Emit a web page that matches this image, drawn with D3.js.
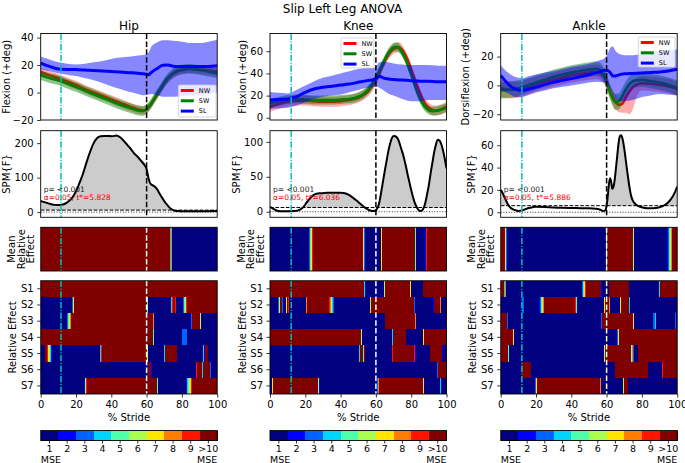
<!DOCTYPE html>
<html><head><meta charset="utf-8">
<script src="https://cdn.jsdelivr.net/npm/d3@7"></script>
<style>body{margin:0;background:#fff}svg{display:block}</style>
</head><body><svg id="c" width="685" height="463"></svg>
<script>
// ---------------- DATA ----------------
const joints = ["Hip", "Knee", "Ankle"];
const topYLabels = ["Flexion (+deg)", "Flexion (+deg)", "Dorsiflexion (+deg)"];
const seriesNames = ["NW", "SW", "SL"];
const subjects = ["S1", "S2", "S3", "S4", "S5", "S6", "S7"];
const cbarLabels = ["1", "2", "3", "4", "5", "6", "7", "8", "9", ">10"];
const toeOff = 60;
const markers = [11.5, 12, 12];
const thresholds = [5.828, 6.036, 5.886];
const pTexts = ["p= <0.001", "p= <0.001", "p= <0.001"];
const topTicks = [[-20, 0, 20, 40], [0, 20, 40, 60], [-20, 0, 20]];
const spmTicks = [[0, 100, 200], [0, 50, 100], [0, 20, 40, 60]];
const strideTicks = [0, 20, 40, 60, 80, 100];

// [stride %, mean, lower, upper]
const hipNW = [[0,15,12,18],[5,12.5,9.5,15.5],[10,10.5,7.5,13.5],[15,8,5,11],[20,5.5,2.5,8.5],[25,2.5,-0.5,5.5],[30,0,-3,3],[35,-2.5,-5.5,0.5],[40,-5,-8,-2],[45,-7.5,-10.5,-4.5],[50,-10,-13,-7],[55,-12.3,-15.3,-9.3],[58,-13,-16,-10],[60,-12.2,-15.2,-9.2],[62,-9.5,-12.5,-6.5],[65,-3.5,-6.5,-0.5],[68,2.5,-0.5,5.5],[71,8.5,5.5,11.5],[74,12.5,9.5,15.5],[77,15,12,18],[80,16.3,13.3,19.3],[84,17.2,14.2,20.2],[88,17,14,20],[92,16.5,13.5,19.5],[96,15.8,12.8,18.8],[100,15,12,18]];
const hipSW = [[0,12.8,9.3,16.3],[5,10.5,7,14],[10,9,5.5,12.5],[15,6.5,3,10],[20,4,0.5,7.5],[25,1.3,-2.2,4.8],[30,-1.2,-4.7,2.3],[35,-3.8,-7.3,-0.3],[40,-6.3,-9.8,-2.8],[45,-9,-12.5,-5.5],[50,-11,-14.5,-7.5],[55,-13,-16.5,-9.5],[58,-13.4,-16.9,-9.9],[60,-12,-15.5,-8.5],[62,-9,-12.5,-5.5],[65,-3,-6.5,0.5],[68,3,-0.5,6.5],[71,9,5.5,12.5],[74,13,9.5,16.5],[77,15.7,12.2,19.2],[80,16.8,13.3,20.3],[84,17.3,13.8,20.8],[88,16.8,13.3,20.3],[92,16,12.5,19.5],[96,15,11.5,18.5],[100,14,10.5,17.5]];
const hipSL = [[0,21.5,17,26],[5,19,15.5,24],[10,17.2,14,22],[15,16.8,13,21],[20,16.7,12,20.5],[25,16.5,10.5,21],[30,16,9,22],[35,15.7,7,23],[40,15.3,4.5,24.5],[45,15,2.5,25.5],[50,14.5,0.5,26],[55,14,-1,27],[59,13.5,-2,27.5],[61,13,-1.5,29],[63,15,-1,34],[66,17.5,-2,36.5],[69,19.8,-3,38],[72,20,-3,38],[76,19,-3,37.5],[80,19,-2.5,37],[85,19,-2,36],[90,19,-1.5,36],[95,19,-1,37],[100,19.5,0,38.5]];

const kneeNW = [[0,10,5.5,14.5],[5,12.5,8,17],[10,14.5,10,19],[15,15.5,11,20],[20,15.5,11,20],[25,15,10.5,19.5],[30,14.5,10,19],[35,14.5,10,19],[40,15,10.5,19.5],[45,16,11.5,20.5],[50,18,13.5,22.5],[53,20.5,16,25],[56,24.5,20,29],[59,31,26.5,35.5],[62,40.5,36,45],[65,51,46.5,55.5],[68,59,54.5,63.5],[71,63,58.5,67.5],[73,63.5,59,68],[75,61,56.5,65.5],[78,52,47.5,56.5],[81,39,34.5,43.5],[84,26,21.5,30.5],[87,15,10.5,19.5],[90,9,4.5,13.5],[93,6.5,2,11],[96,7,2.5,11.5],[100,10,5.5,14.5]];
const kneeSW = [[0,13,9,17],[5,15,11,19],[10,16.5,12.5,20.5],[15,17,13,21],[20,16.5,12.5,20.5],[25,16,12,20],[30,16,12,20],[35,16,12,20],[40,16.5,12.5,20.5],[45,17,13,21],[50,19,15,23],[53,21.5,17.5,25.5],[56,26,22,30],[59,33,29,37],[62,42.5,38.5,46.5],[65,52.5,48.5,56.5],[68,60.5,56.5,64.5],[70,63.5,59.5,67.5],[72,64,60,68],[74,61,57,65],[77,52,48,56],[80,39,35,43],[83,25,21,29],[86,14,10,18],[89,8,4,12],[92,6,2,10],[95,6.5,2.5,10.5],[100,9,5,13]];
const kneeSL = [[0,16,8,23],[5,16.5,8.5,22.5],[10,17,9,22],[15,19,11,25],[20,23,14,29],[25,26,17,33],[30,27.5,19,36],[35,28.5,20,38],[40,29.5,21,40],[45,30.5,23,42],[50,32,25,44],[55,33.5,27,45],[59,34.5,28,45],[61,36.5,28,48],[62,37.5,27,50],[64,36,25,50.5],[67,35,22,50],[70,34.5,20,49],[75,34,17,48],[80,33.5,15,47.5],[85,33,15,47.5],[90,33,16,47.5],[95,32.5,16,47],[100,32.5,16,47]];

const ankleNW = [[0,-2,-8,4],[5,-3,-9,3],[10,-3,-8.5,2.5],[15,-1,-6.5,4.5],[20,1,-4,6],[25,2.5,-2.5,7.5],[30,4,-1,9],[35,5.5,0.5,10.5],[40,7,2,12],[45,8,3,13],[50,9,4,14],[54,9.5,4.5,14.5],[57,8,3,13],[59,5,0,10],[61,-1,-6,4],[63,-7,-12,-2],[65,-11.5,-16.5,-6.5],[67,-13.5,-18.5,-8.5],[69,-12.5,-19,-7],[71,-8,-19,-3],[73,-4,-20,0],[75,-1,-16,3],[77,0.5,-8,5],[80,1.5,-3.5,6.5],[86,1,-4,6],[90,0.5,-4.5,5.5],[95,-0.5,-5.5,4.5],[100,-2.3,-7,2.5]];
const ankleSW = [[0,-3.5,-9,2],[5,-3,-8.5,2.5],[10,-2,-7.5,3.5],[15,0,-5,5],[20,2,-3,7],[25,4,-1,9],[30,6,1,11],[35,7.5,2.5,12.5],[40,9,4,14],[45,10,5,15],[50,11,6,16],[54,11.5,6.5,16.5],[57,10,5,15],[59,6,1,11],[61,-1,-6,4],[63,-8,-13,-3],[65,-11.5,-17,-6],[67,-11,-16.5,-5.5],[69,-7,-12.5,-1.5],[71,-2.5,-8,3],[73,1,-4.5,6.5],[76,3.5,-1.5,8.5],[80,3.8,-1,8.5],[85,3,-2,8],[90,2,-3,7],[95,0.5,-4.5,5.5],[100,-1.8,-7,3.5]];
const ankleSL = [[0,7,-3,14],[3,2.5,-5,10],[5,0,-6,8],[8,-2.3,-8,6],[12,-3.5,-8,5],[15,-2.8,-7,6],[20,-1.2,-5,7.5],[25,0.5,-3.5,9],[30,2.3,-2,10],[35,3.5,-1,11.5],[40,4.7,0,13],[45,6,1,14],[50,7.4,2,15],[55,9,2.5,17],[59,10.5,2,19],[61,10,0,23],[62,9,-2,26],[63.5,6.5,-6,27],[65,6.5,-10,24],[67,7.3,-11,22],[70,8,-11,21],[75,8.3,-10,21],[80,8.6,-8,22],[85,9,-7,23],[90,9.3,-6,24],[95,10,-6.5,24],[100,11.2,-7,25]];

// SPM{F} curves [stride %, F]
const hipSPM = [[0,32],[2,29],[4,26],[6,23],[8,21],[10,20.5],[12,21.5],[14,25],[16,32],[18,43],[20,60],[22,85],[24,112],[26,145],[28,175],[30,200],[32,215],[34,220],[36,221],[38,221],[40,220],[42,221],[43,222],[45,217],[47,207],[49,195],[51,183],[53,170],[55,160],[57,148],[59,135],[60,125],[61,100],[62,84],[63,79],[64,76],[65,72],[66,66],[67,57],[68,48],[69,40],[70,32],[71,25],[72,19],[73,13],[74,9],[75,6],[76,4],[78,3],[80,2.5],[90,2.5],[100,3]];
const kneeSPM = [[0,7],[2,4],[4,1.5],[6,0.8],[10,0.8],[14,1],[17,3],[19,7],[21,14],[23,20],[25,24.5],[28,26.5],[32,27],[36,27.2],[40,27.3],[43,26],[46,22],[48,18],[50,14],[52,9.5],[54,5.5],[56,2.5],[58,1],[59.5,1.5],[61,6],[62,14],[63,28],[64,43],[65,58],[66,72],[67,86],[68,97],[69,105],[70,108.5],[71,108],[72,106],[73,101],[74,93],[75,85],[76,76],[77,65],[78,53],[79,42],[80,31],[81,21],[82,13],[83,7],[84,3],[85,1],[86,1.5],[87,5],[88,13],[89,25],[90,38],[91,55],[92,70],[93,85],[94,96],[95,103],[96,102],[97,97],[98,88],[99,76],[100,62]];
const ankleSPM = [[0,20],[1,17.5],[2,14],[3,10.5],[4,7.5],[5,5],[6,3.5],[8,2],[10,1.2],[12,1.5],[14,2.8],[16,3.8],[18,4.5],[20,5],[25,4.8],[30,4.3],[35,4],[40,3.8],[45,3.7],[50,3.6],[54,3.2],[56,2.5],[58,1.2],[59,1.5],[60,6],[60.7,15],[61.3,25],[62,30.5],[62.6,27],[63.2,21],[63.8,22.5],[64.5,28],[65.2,38],[66,50],[66.8,62],[67.5,68],[68.2,69],[69,66],[70,57],[71,45],[72,33],[73,22],[74,14],[75,10],[77,6.5],[80,4.5],[83,3.6],[86,3.5],[90,4.5],[93,6.5],[95,9],[97,13],[99,19],[100,23]];

// Relative effect (MSE) knots [stride %, MSE]
const hipMean = [[0,10],[73.2,10],[74.5,1],[100,1]];
const hipRows = [
  [[0,10],[100,10]],
  [[0,1],[17.8,1],[19,10],[60.3,10],[60.7,1],[73.8,1],[74.8,10],[76.3,10],[76.8,1],[80.5,1],[83,10],[100,10]],
  [[0,1],[14.5,1],[17.5,10],[63.8,10],[64.3,1],[85.3,1],[85.8,10],[90.3,10],[90.8,1],[100,1]],
  [[0,10],[63.6,10],[64.2,1],[79.8,1],[80.1,3],[82.6,3],[83,1],[100,1]],
  [[0,1],[2.3,1],[2.6,10],[3.5,10],[6.5,1],[33.5,1],[34.5,10],[60.4,10],[60.8,1],[70,1],[70.4,10],[77,10],[77.4,1],[92,1],[92.4,6],[92.8,1],[93.2,10],[94.5,10],[95,1],[100,1]],
  [[0,1],[60.5,1],[60.8,10],[62.5,10],[62.8,1],[88,1],[88.3,10],[91.4,10],[91.6,2],[91.9,10],[96,10],[96.3,1],[100,1]],
  [[0,1],[24.7,1],[26,10],[65.7,10],[66.5,1],[82,1],[86,10],[100,10]]
];
const kneeMean = [[0,1],[21.9,1],[24.3,10],[52.5,10],[53.8,1],[62.6,1],[63.5,10],[81.9,10],[82.8,1],[88,1],[88.8,10],[100,10]];
const kneeRows = [
  [[0,10],[53,10],[53.8,1],[64.5,1],[65.2,10],[79.4,10],[80,1],[86.4,1],[87,10],[100,10]],
  [[0,1],[4.5,1],[6,10],[6.5,10],[7.2,1],[8.8,1],[9.6,10],[10.4,10],[11,1],[20.3,1],[20.8,10],[33.5,10],[36.5,1],[56.7,1],[57.1,10],[81.5,10],[82,1],[92.6,1],[93,10],[96.5,10],[97,1],[100,1]],
  [[0,1],[65,1],[65.3,10],[82.3,10],[82.8,1],[100,1]],
  [[0,10],[51.5,10],[52.3,1],[69.2,1],[69.8,10],[76.8,10],[77.3,1],[86.5,1],[87.2,10],[100,10]],
  [[0,1],[50.5,1],[51.2,10],[52.5,10],[53,5],[53.5,10],[54,1],[69,1],[69.5,10],[81.8,10],[82.5,1],[90.5,1],[90.9,10],[97.3,10],[97.8,1],[100,1]],
  [[0,1],[94.8,1],[95.4,10],[100,10]],
  [[0,1],[1,1],[1.6,10],[27,10],[28.2,1],[60.6,1],[61.8,10],[86.8,10],[87.3,1],[96.2,1],[96.6,4],[97,1],[100,1]]
];
const ankleMean = [[0,10],[2.3,10],[3.5,1],[59.4,1],[60.5,10],[74.8,10],[75.8,1],[94.3,1],[97.5,10],[100,10]];
const ankleRows = [
  [[0,10],[1.8,10],[3.2,1],[45.8,1],[48.3,10],[56.6,10],[57.2,1],[61.2,1],[61.6,10],[72.4,10],[73,1],[89.8,1],[90.4,10],[100,10]],
  [[0,1],[12,1],[12.3,3],[13.2,3],[13.5,1],[21.7,1],[25,10],[42.3,10],[43.5,1],[58.5,1],[59,10],[61.5,10],[62,1],[67.6,1],[68,10],[72.6,10],[73.2,1],[100,1]],
  [[0,10],[3.3,10],[4,1],[57,1],[57.6,10],[75,10],[75.8,1],[86,1],[86.3,4],[86.6,3],[87.5,3],[87.8,4],[88.1,1],[98.6,1],[99,3],[99.4,1],[100,1]],
  [[0,10],[7,10],[7.8,1],[65.8,1],[67.4,10],[100,10]],
  [[0,5],[0.5,10],[4,10],[4.8,1],[58.3,1],[59.2,10],[73.5,10],[74,5],[74.5,10],[75,4],[75.8,1],[77.5,1],[78,10],[100,10]],
  [[0,1],[11.8,1],[12,10],[17,10],[17.2,1],[64.5,1],[64.8,10],[83.2,10],[83.4,1],[91.5,1],[91.7,10],[100,10]],
  [[0,1],[19.4,1],[20.8,10],[56.4,10],[57,1],[69.3,1],[69.8,10],[71.8,10],[72.3,1],[100,1]]
];

const topSeries = [[hipNW, hipSW, hipSL], [kneeNW, kneeSW, kneeSL], [ankleNW, ankleSW, ankleSL]];
const spmCurves = [hipSPM, kneeSPM, ankleSPM];
const meanRows = [hipMean, kneeMean, ankleMean];
const subjRows = [hipRows, kneeRows, ankleRows];

// ---------------- LAYOUT / STYLE ----------------
const FONT = "'DejaVu Sans', sans-serif";
const colX = [40.7, 270, 500.7], colW = 176.5;
const R = {top: [33.5, 120], spm: [130.7, 217.3], mean: [227.3, 271], rel: [280.7, 394], cbar: [430.5, 440.5]};
const topDomains = [[-20, 43], [-2, 76], [-24, 36]];
const spmDomains = [[-15, 236], [-8, 116], [-4.5, 73]];
const cmap = ["#000080","#0000ff","#0063ff","#00d4ff","#4effaa","#a9ff4d","#ffe500","#ff7d00","#ff1400","#800000"];
const sColors = ["#ff0000", "#008000", "#0000ff"];
const bandOpacity = [0.33, 0.45, 0.47];
const lineW = [2.6, 2.6, 3];
const cyan = "#00bfbf";
const legendBoxes = [{x: 178.3, y: 85, w: 37.7, h: 32}, {x: 341, y: 38, w: 33, h: 30}, {x: 638.3, y: 37, w: 36.7, h: 30}];
const topLabelX = [6, 242, 465];
const spmLabelX = [6.5, 236.5, 471.5];
const relLabelX = [12, 242, 472];

const svg = d3.select("#c");
const defs = svg.append("defs");

function clip(id, x0, y0, x1, y1) {
  defs.append("clipPath").attr("id", id).append("rect").attr("x", x0).attr("y", y0).attr("width", x1 - x0).attr("height", y1 - y0);
  return "url(#" + id + ")";
}
function frame(x0, y0, x1, y1) {
  svg.append("rect").attr("x", x0).attr("y", y0).attr("width", x1 - x0).attr("height", y1 - y0)
    .attr("fill", "none").attr("stroke", "#000").attr("stroke-width", 0.9);
}
function styleAxis(g, size) {
  g.attr("font-family", FONT).attr("font-size", size || 10);
  g.select(".domain").remove();
  g.selectAll(".tick line").attr("stroke", "#000").attr("stroke-width", 0.8);
  g.selectAll(".tick text").attr("fill", "#000");
}
function vlines(g, x, y0, y1, m, toeColor) {
  g.append("line").attr("x1", x(m)).attr("x2", x(m)).attr("y1", y0).attr("y2", y1)
    .attr("stroke", cyan).attr("stroke-width", 1.5).attr("stroke-dasharray", "6.4,1.6,1,1.6");
  g.append("line").attr("x1", x(toeOff)).attr("x2", x(toeOff)).attr("y1", y0).attr("y2", y1)
    .attr("stroke", toeColor).attr("stroke-width", 1.5).attr("stroke-dasharray", "5.5,2.4");
}
function vlabel(text, cx, cy, size, color) {
  svg.append("text").attr("transform", `translate(${cx},${cy}) rotate(-90)`).attr("text-anchor", "middle")
    .attr("dy", "0.36em").attr("font-family", FONT).attr("font-size", size).attr("fill", color || "#000").text(text);
}
function interp(knots, p) {
  if (p <= knots[0][0]) return knots[0][1];
  for (let i = 1; i < knots.length; i++) {
    const a = knots[i - 1], b = knots[i];
    if (p <= b[0]) return a[1] + (b[1] - a[1]) * (p - a[0]) / (b[0] - a[0] || 1);
  }
  return knots[knots.length - 1][1];
}
function levelIndex(v) { return Math.max(0, Math.min(9, Math.round(v) - 1)); }
function heatRuns(knots) {
  const runs = []; let cur = null; const step = 0.05;
  for (let i = 0; i < 2000; i++) {
    const p0 = i * step, pm = p0 + step / 2;
    const c = levelIndex(interp(knots, pm));
    if (cur && cur.c === c) cur.x1 = p0 + step;
    else { cur = {x0: p0, x1: p0 + step, c}; runs.push(cur); }
  }
  return runs;
}
function drawHeat(g, x, knots, y0, h) {
  heatRuns(knots).forEach(r => {
    g.append("rect").attr("x", x(r.x0)).attr("y", y0).attr("width", Math.max(0.01, x(r.x1) - x(r.x0)) + 0.3)
      .attr("height", h).attr("fill", cmap[r.c]).attr("shape-rendering", "crispEdges");
  });
}

// Title
svg.append("text").attr("x", 342.5).attr("y", 12.5).attr("text-anchor", "middle").attr("font-family", FONT)
  .attr("font-size", 12).text("Slip Left Leg ANOVA");

joints.forEach((jn, j) => {
  const x0 = colX[j], x1 = colX[j] + colW;
  const x = d3.scaleLinear().domain([0, 100]).range([x0, x1]);

  // ---- panel title
  svg.append("text").attr("x", (x0 + x1) / 2).attr("y", 29.5).attr("text-anchor", "middle")
    .attr("font-family", FONT).attr("font-size", 12).text(jn);

  // ---- top kinematics panel
  const yT = d3.scaleLinear().domain(topDomains[j]).range([R.top[1], R.top[0]]);
  const gT = svg.append("g").attr("clip-path", clip("ct" + j, x0, R.top[0], x1, R.top[1]));
  topSeries[j].forEach((s, k) => {
    gT.append("path").datum(s)
      .attr("d", d3.area().x(d => x(d[0])).y0(d => yT(d[2])).y1(d => yT(d[3])).curve(d3.curveMonotoneX))
      .attr("fill", sColors[k]).attr("fill-opacity", bandOpacity[k]).attr("stroke", "none");
    gT.append("path").datum(s)
      .attr("d", d3.line().x(d => x(d[0])).y(d => yT(d[1])).curve(d3.curveMonotoneX))
      .attr("fill", "none").attr("stroke", sColors[k]).attr("stroke-width", lineW[k]);
  });
  vlines(gT, x, R.top[0], R.top[1], markers[j], "#000");
  frame(x0, R.top[0], x1, R.top[1]);
  svg.append("g").attr("transform", `translate(${x0},0)`)
    .call(d3.axisLeft(yT).tickValues(topTicks[j]).tickSize(3.5).tickPadding(3.5)).call(styleAxis);
  vlabel(topYLabels[j], topLabelX[j], (R.top[0] + R.top[1]) / 2, 10);

  // legend
  const lb = legendBoxes[j];
  const lg = svg.append("g");
  lg.append("rect").attr("x", lb.x).attr("y", lb.y).attr("width", lb.w).attr("height", lb.h).attr("rx", 1.5)
    .attr("fill", "#fff").attr("fill-opacity", 0.8).attr("stroke", "#cccccc").attr("stroke-width", 0.8);
  seriesNames.forEach((nm, k) => {
    const ly = lb.y + 5.5 + k * 10.3;
    lg.append("line").attr("x1", lb.x + 2.5).attr("x2", lb.x + 15.5).attr("y1", ly).attr("y2", ly)
      .attr("stroke", sColors[k]).attr("stroke-width", 3);
    lg.append("text").attr("x", lb.x + 20.5).attr("y", ly).attr("dy", "0.35em").attr("font-family", FONT)
      .attr("font-size", 6.5).text(nm);
  });

  // ---- SPM panel
  const yS = d3.scaleLinear().domain(spmDomains[j]).range([R.spm[1], R.spm[0]]);
  const th = thresholds[j];
  const gS = svg.append("g").attr("clip-path", clip("cs" + j, x0, R.spm[0], x1, R.spm[1]));
  gS.append("path").datum(spmCurves[j])
    .attr("d", d3.area().x(d => x(d[0])).y0(yS(th)).y1(d => yS(Math.max(d[1], th))).curve(d3.curveMonotoneX))
    .attr("fill", "#cccccc");
  gS.append("line").attr("x1", x0).attr("x2", x1).attr("y1", yS(th)).attr("y2", yS(th))
    .attr("stroke", "#000").attr("stroke-width", 1).attr("stroke-dasharray", "3.7,1.6");
  gS.append("line").attr("x1", x0).attr("x2", x1).attr("y1", yS(0)).attr("y2", yS(0))
    .attr("stroke", "#000").attr("stroke-width", 0.8).attr("stroke-dasharray", "1,1.65");
  gS.append("path").datum(spmCurves[j])
    .attr("d", d3.line().x(d => x(d[0])).y(d => yS(d[1])).curve(d3.curveMonotoneX))
    .attr("fill", "none").attr("stroke", "#000").attr("stroke-width", 2);
  vlines(gS, x, R.spm[0], R.spm[1], markers[j], "#000");
  svg.append("text").attr("x", x0 + 3).attr("y", 191.7).attr("font-family", FONT).attr("font-size", 7.5)
    .attr("fill", "#222").text(pTexts[j]);
  svg.append("text").attr("x", x0 + 3).attr("y", 199.7).attr("font-family", FONT).attr("font-size", 7.5)
    .attr("fill", "#ff0000").text("\u03b1=0.05, t*=" + th.toFixed(3));
  frame(x0, R.spm[0], x1, R.spm[1]);
  svg.append("g").attr("transform", `translate(${x0},0)`)
    .call(d3.axisLeft(yS).tickValues(spmTicks[j]).tickSize(3.5).tickPadding(3.5)).call(styleAxis);
  vlabel("SPM{F}", spmLabelX[j], (R.spm[0] + R.spm[1]) / 2, 10);

  // ---- mean relative effect
  const gM = svg.append("g").attr("clip-path", clip("cm" + j, x0, R.mean[0], x1, R.mean[1]));
  drawHeat(gM, x, meanRows[j], R.mean[0], R.mean[1] - R.mean[0]);
  vlines(gM, x, R.mean[0], R.mean[1], markers[j], "#fff");
  frame(x0, R.mean[0], x1, R.mean[1]);
  const mc = (R.mean[0] + R.mean[1]) / 2;
  vlabel("Mean", x0 - 29, mc, 10);
  vlabel("Relative", x0 - 19.5, mc, 10);
  vlabel("Effect", x0 - 10, mc, 10);

  // ---- subject relative effect
  const yB = d3.scaleBand().domain(subjects).range([R.rel[0], R.rel[1]]);
  const gR = svg.append("g").attr("clip-path", clip("cr" + j, x0, R.rel[0], x1, R.rel[1]));
  subjRows[j].forEach((row, i) => drawHeat(gR, x, row, yB(subjects[i]), yB.bandwidth()));
  vlines(gR, x, R.rel[0], R.rel[1], markers[j], "#fff");
  frame(x0, R.rel[0], x1, R.rel[1]);
  svg.append("g").attr("transform", `translate(${x0},0)`)
    .call(d3.axisLeft(yB).tickSize(3.5).tickPadding(3.5)).call(styleAxis);
  svg.append("g").attr("transform", `translate(0,${R.rel[1]})`)
    .call(d3.axisBottom(x).tickValues(strideTicks).tickSize(3.5).tickPadding(3.5)).call(styleAxis);
  svg.append("text").attr("x", (x0 + x1) / 2).attr("y", 420.5).attr("text-anchor", "middle")
    .attr("font-family", FONT).attr("font-size", 10).text("% Stride");
  vlabel("Relative Effect", relLabelX[j], (R.rel[0] + R.rel[1]) / 2, 10);

  // ---- colorbar
  const xc = d3.scaleBand().domain(cbarLabels).range([x0, x1]);
  cbarLabels.forEach((l, i) => {
    svg.append("rect").attr("x", xc(l)).attr("y", R.cbar[0]).attr("width", xc.bandwidth() + 0.3)
      .attr("height", R.cbar[1] - R.cbar[0]).attr("fill", cmap[i]).attr("shape-rendering", "crispEdges");
  });
  frame(x0, R.cbar[0], x1, R.cbar[1]);
  svg.append("g").attr("transform", `translate(0,${R.cbar[1]})`)
    .call(d3.axisBottom(xc).tickSize(3).tickPadding(1.5)).call(g => styleAxis(g, 9.5));
  svg.append("text").attr("x", x0).attr("y", 462.5).attr("font-family", FONT).attr("font-size", 9.5).text("MSE");
  svg.append("text").attr("x", x1).attr("y", 462.5).attr("text-anchor", "end").attr("font-family", FONT)
    .attr("font-size", 9.5).text("MSE");
});
</script>
</body></html>
